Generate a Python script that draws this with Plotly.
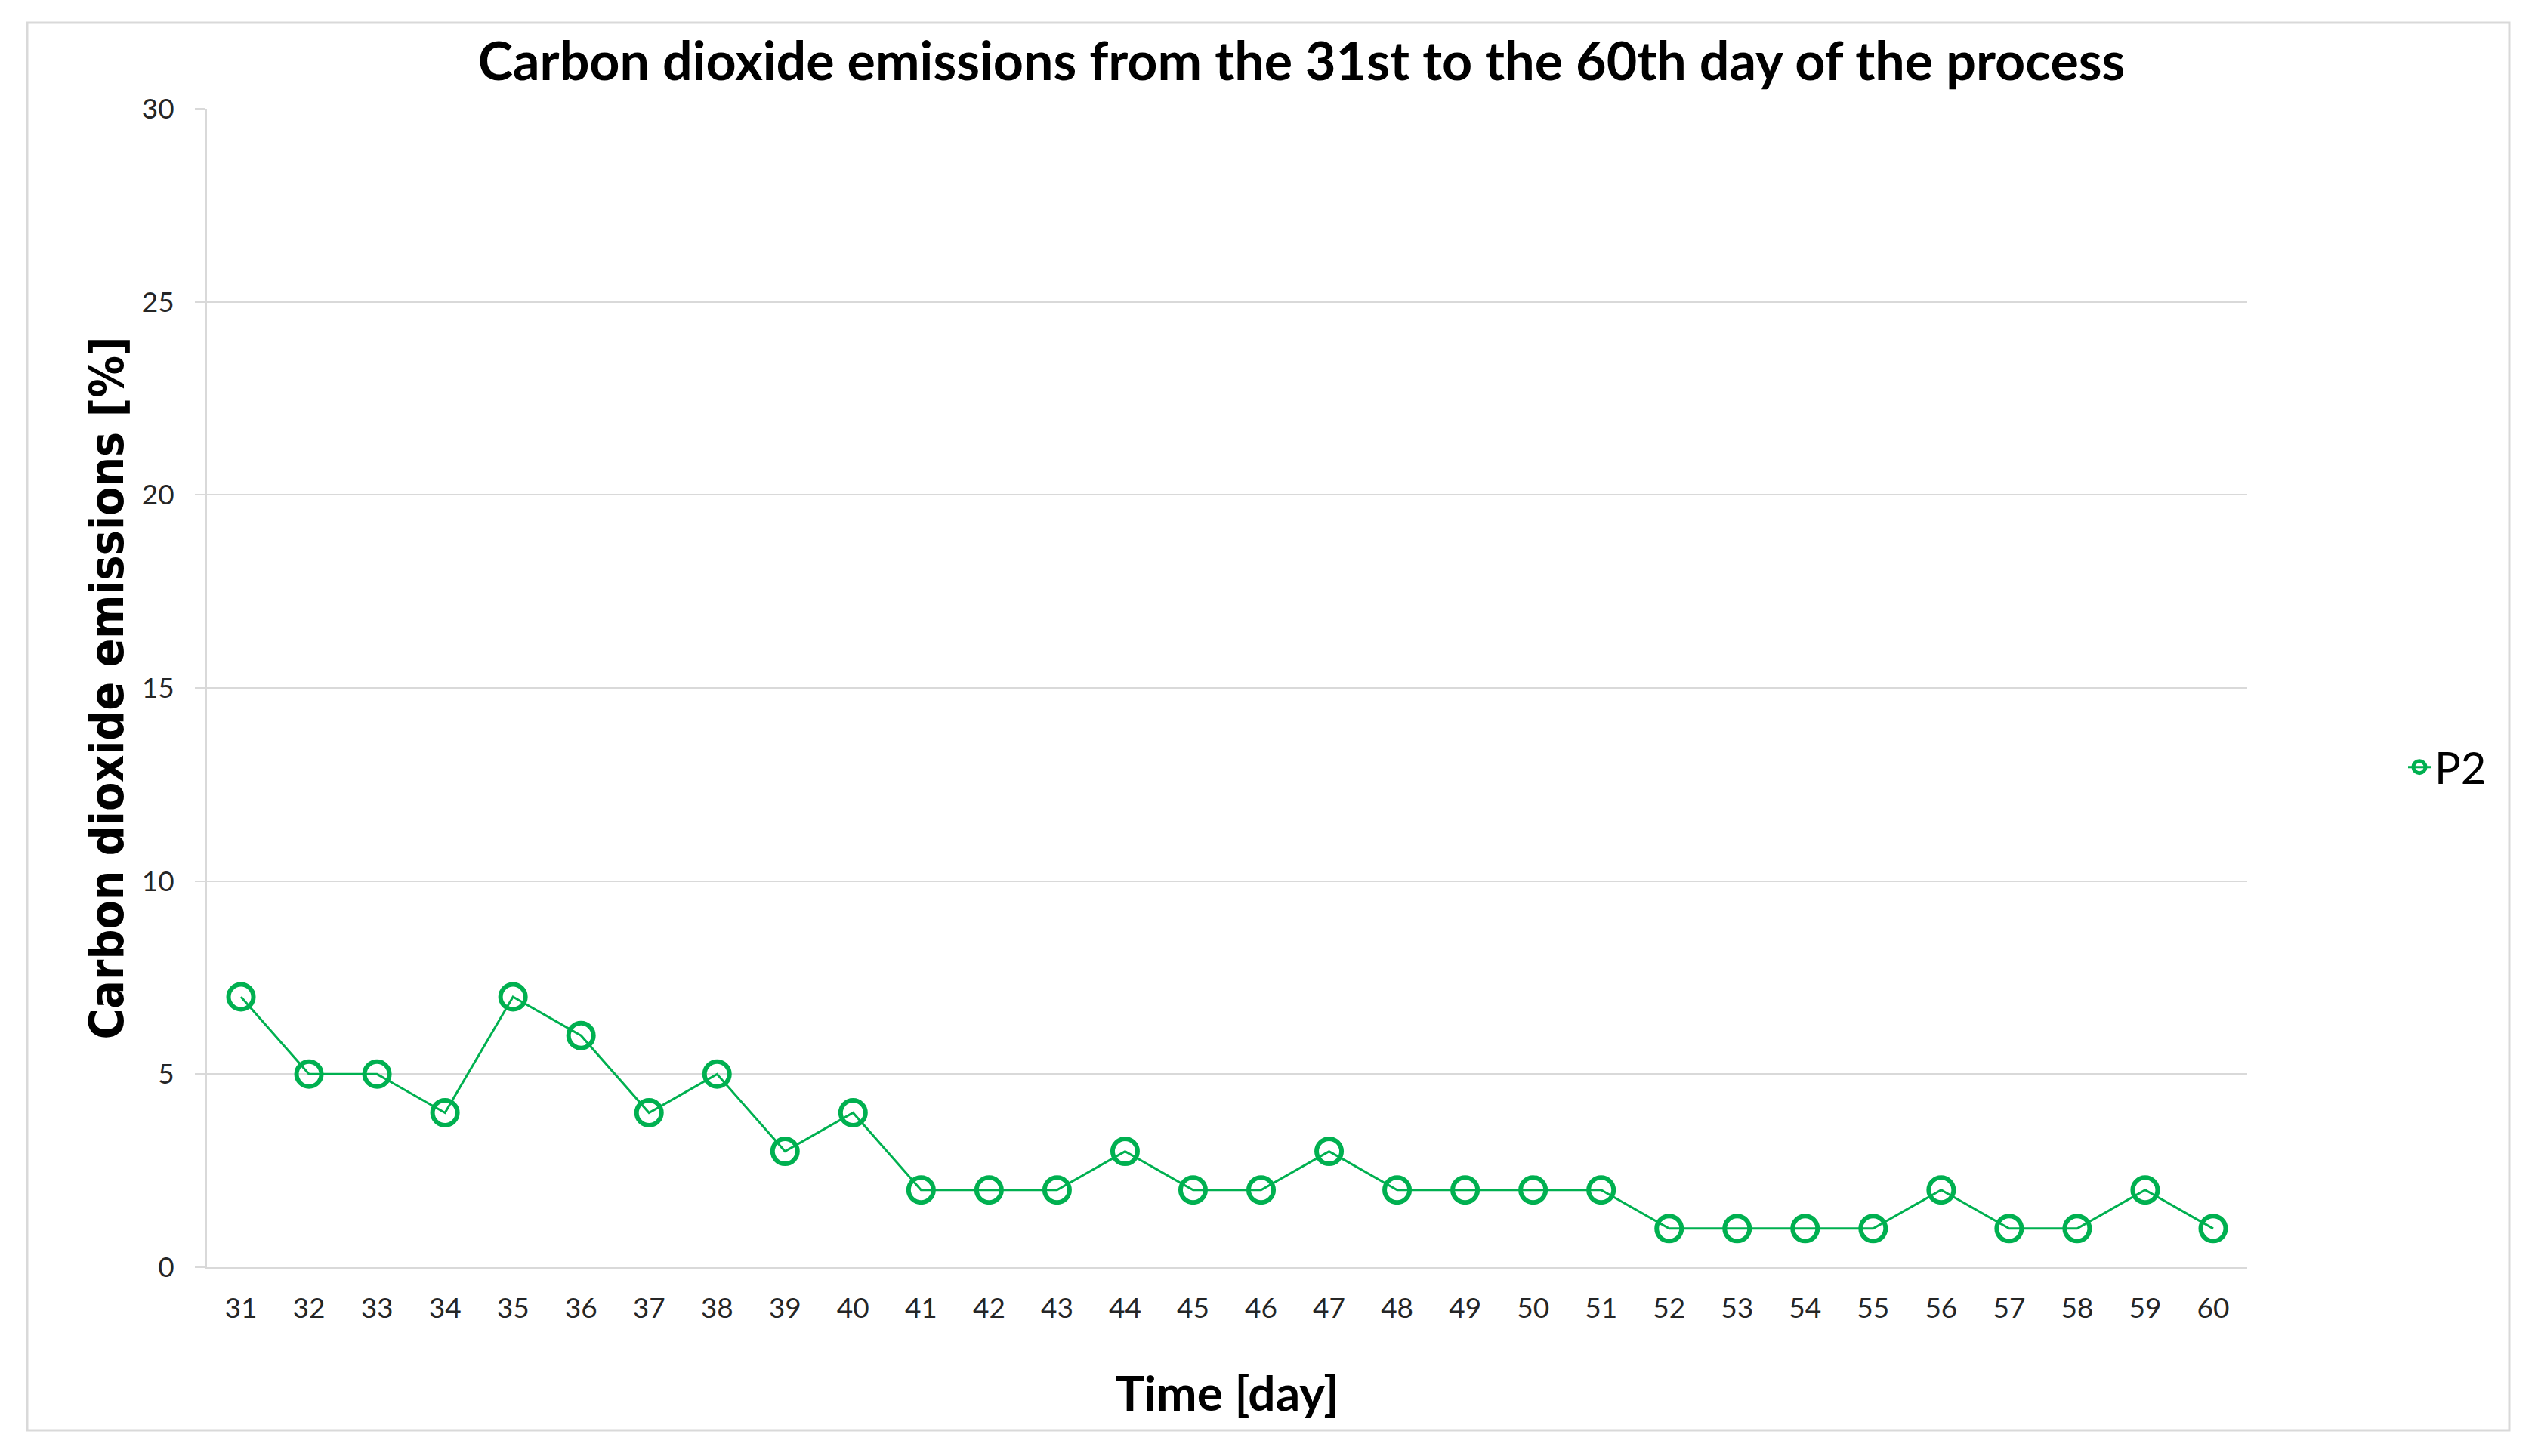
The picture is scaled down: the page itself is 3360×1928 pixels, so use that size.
import plotly.graph_objects as go

days = list(range(31, 61))
p2_values = [7, 5, 5, 4, 7, 6, 4, 5, 3, 4,
             2, 2, 2, 3, 2, 2, 3, 2, 2, 2,
             2, 1, 1, 1, 1, 2, 1, 1, 2, 1]
y_ticks = [0, 5, 10, 15, 20, 25, 30]

# page offset from the default body margin
OFF = 8
W, H = 3360 - OFF, 1928 - OFF
PL, PR, PT, PB = 274, 2975, 144, 1678          # plot area in page pixels
L, T = PL - OFF, PT - OFF
pw, ph = PR - PL, PB - PT
R, B = W - L - pw, H - T - ph

def px_x(px):
    return (px - PL) / pw

def px_y(py):
    return (PB - py) / ph

GREEN = "#00B050"
GRID = "#d9d9d9"

fig = go.Figure()
fig.add_trace(go.Scatter(
    x=days, y=p2_values, mode="lines+markers", name="P2",
    line=dict(color=GREEN, width=3),
    marker=dict(symbol="circle-open", size=33, color=GREEN, line=dict(width=6, color=GREEN)),
))

fig.update_layout(
    width=W, height=H,
    margin=dict(l=L, r=R, t=T, b=B, pad=0),
    paper_bgcolor="white", plot_bgcolor="white",
    font=dict(family="Lato", size=37, color="#262626"),
    title=dict(
        text="<b>Carbon dioxide emissions from the 31st to the 60th day of the process</b>",
        font=dict(family="Lato", size=70, color="black"),
        x=(1723 - OFF) / W, xref="container", xanchor="center",
        y=1 - (81 - OFF) / H, yref="container", yanchor="middle",
    ),
    xaxis=dict(
        range=[30.5, 60.5], tickmode="array", tickvals=days,
        ticktext=[str(d) for d in days],
        showgrid=False, zeroline=False,
        showline=True, linecolor=GRID, linewidth=3,
        ticks="", ticklabelstandoff=20,
        tickfont=dict(family="Lato", size=37, color="#262626"),
        title=dict(text="<b>Time [day]</b>", font=dict(family="Lato", size=64, color="black"), standoff=71),
    ),
    yaxis=dict(
        range=[0, 30], tickmode="array", tickvals=y_ticks,
        showgrid=True, gridcolor=GRID, gridwidth=2, zeroline=False,
        showline=True, linecolor=GRID, linewidth=3,
        ticks="outside", ticklen=13, tickcolor=GRID, tickwidth=2,
        ticklabelstandoff=20,
        tickfont=dict(family="Lato", size=37, color="#262626"),
        title=dict(text="<b>Carbon dioxide emissions [%]</b>",
                   font=dict(family="DejaVu Sans Condensed, DejaVu Sans", size=62, color="black"), standoff=4),
    ),
    legend=dict(
        x=px_x(3183), xanchor="left", y=px_y(1016), yanchor="middle",
        font=dict(family="Lato", size=58, color="black"),
        bgcolor="rgba(0,0,0,0)", itemsizing="trace",
    ),
    showlegend=True,
    shapes=[dict(
        type="rect", xref="paper", yref="paper",
        x0=px_x(36), x1=px_x(3322), y0=px_y(1894), y1=px_y(30),
        line=dict(color=GRID, width=3), fillcolor="rgba(0,0,0,0)", layer="below",
    )],
)

fig.write_html("out.html")
